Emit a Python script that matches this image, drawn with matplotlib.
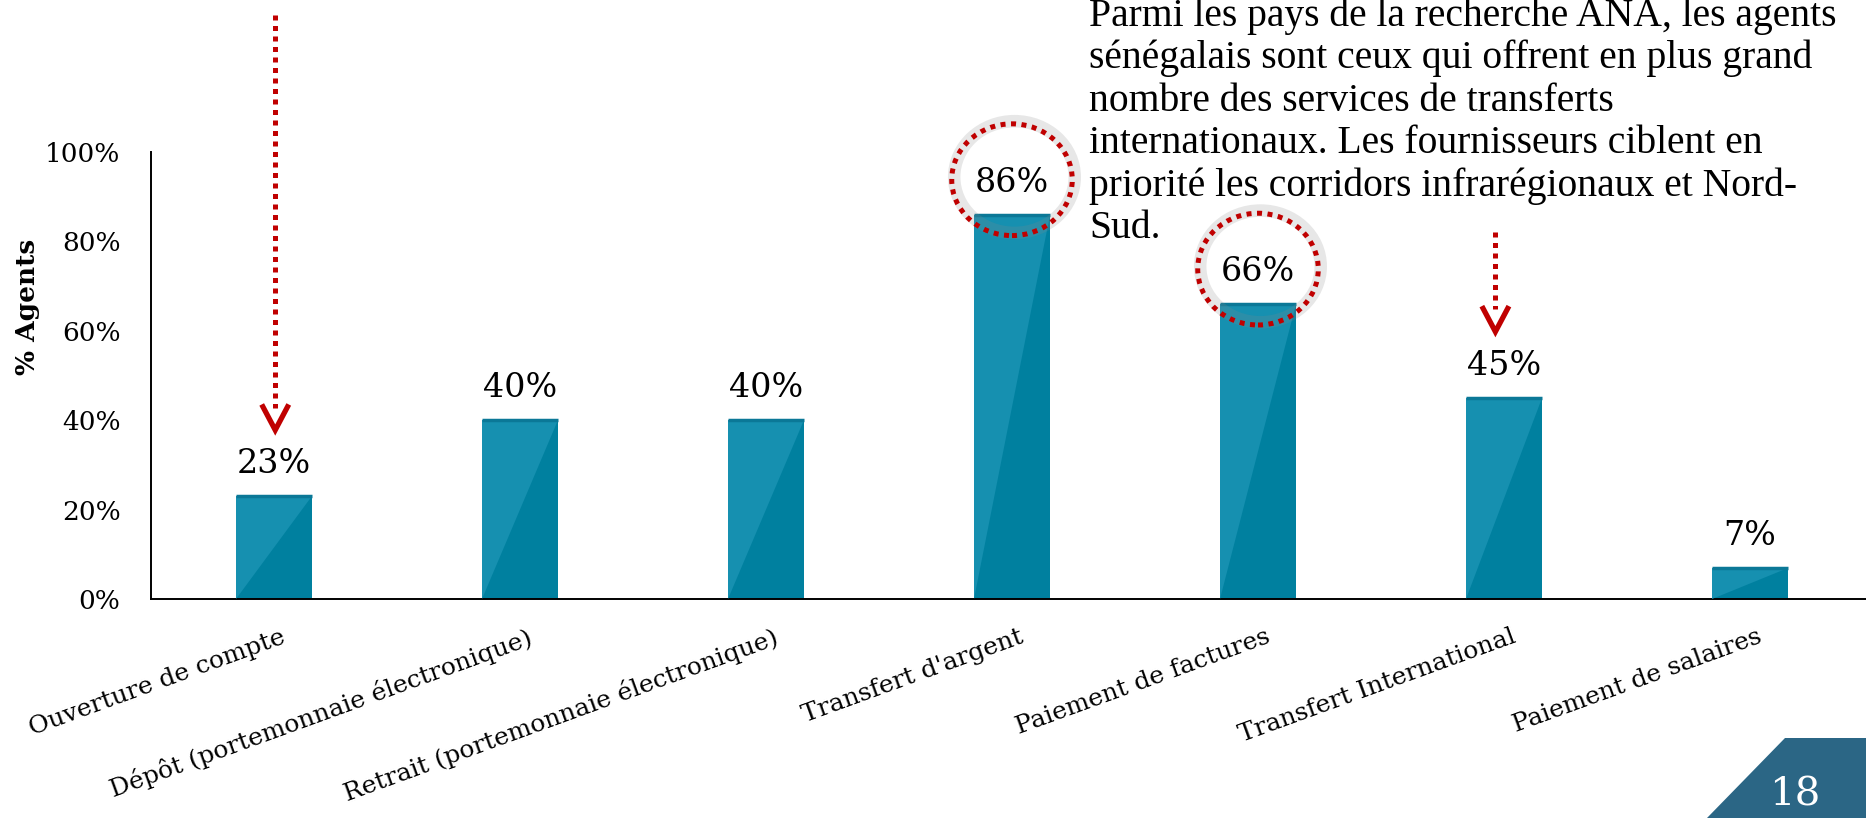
import matplotlib.pyplot as plt
from matplotlib.patches import Polygon, Ellipse
from matplotlib.transforms import ScaledTranslation
from matplotlib.ticker import PercentFormatter

# --- donnees ---
categories = ["Ouverture de compte", "Dépôt (portemonnaie électronique)",
              "Retrait (portemonnaie électronique)", "Transfert d'argent",
              "Paiement de factures", "Transfert International",
              "Paiement de salaires"]
valeurs = [0.23, 0.40, 0.40, 0.86, 0.66, 0.45, 0.07]
cercles = [3, 4]           # barres entourees
fleches = [0, 5]           # barres pointees par une fleche

note = ["Parmi les pays de la recherche ANA, les agents",
        "sénégalais sont ceux qui offrent en plus grand",
        "nombre des services de transferts",
        "internationaux. Les fournisseurs ciblent en",
        "priorité les corridors infrarégionaux et Nord-",
        "Sud."]

BLEU_FONCE = "#00809f"
BLEU_CLAIR = "#1690b0"
ROUGE = "#c00000"
SERIF = "DejaVu Serif"

W, H = 1866, 818
fig = plt.figure(figsize=(W / 100, H / 100), dpi=100)
ax = fig.add_axes([151 / W, 219 / H, (W - 151) / W, 447 / H])

x = list(range(len(categories)))
bars = ax.bar(x, valeurs, width=0.31, color=BLEU_FONCE, zorder=2)

# triangle clair (reflet) + bord superieur
for b in bars:
    x0, w, h = b.get_x(), b.get_width(), b.get_height()
    ax.add_patch(Polygon([(x0, 0), (x0, h), (x0 + w, h)], closed=True,
                         facecolor=BLEU_CLAIR, edgecolor="none", zorder=3))
    ax.plot([x0, x0 + w], [h, h], color="#0b7897", lw=2.5, zorder=4,
            solid_capstyle="butt")

for i, v in enumerate(valeurs):
    ax.annotate(f"{v:.0%}", (i, v), xytext=(0, 23), textcoords="offset points",
                ha="center", va="center", fontsize=24, family=SERIF)

ax.set_xlim(-0.5, -0.5 + (W - 151) / 246)
ax.set_ylim(0, 1)
ax.yaxis.set_major_formatter(PercentFormatter(1.0, decimals=0))
ax.set_yticks([0, 0.2, 0.4, 0.6, 0.8, 1.0])
ax.tick_params(axis="y", length=0, pad=22, labelsize=19)
for t in ax.get_yticklabels():
    t.set_family(SERIF)

ax.set_xticks(x)
ax.set_xticklabels(categories, rotation=20, ha="right", va="top",
                   rotation_mode="anchor", fontsize=18, family=SERIF)
ax.tick_params(axis="x", length=0, pad=19)
decal = ScaledTranslation(7 / 100, 0, fig.dpi_scale_trans)
for t in ax.get_xticklabels():
    t.set_transform(t.get_transform() + decal)

for s in ["top", "right"]:
    ax.spines[s].set_visible(False)
for s in ["left", "bottom"]:
    ax.spines[s].set_color("black")
    ax.spines[s].set_linewidth(1.4)

fig.text(27 / W, 1 - 307 / H, "% Agents", rotation=90, ha="center",
         va="center", fontsize=19, fontweight="bold", family=SERIF)

# cercles pointilles autour des valeurs
for i in cercles:
    cy = valeurs[i] + 0.078
    ax.add_patch(Ellipse((i + 0.01, cy + 0.006), 0.49, 0.25, fill=False,
                         edgecolor="#888888", lw=9, alpha=0.2, zorder=5,
                         clip_on=False))
    ax.add_patch(Ellipse((i, cy), 0.49, 0.25, fill=False, edgecolor=ROUGE,
                         lw=3.6, linestyle=(0, (1, 1.1)), zorder=6, clip_on=False))

# fleches pointillees
hauts = [1.306, 0.821]
for i, haut in zip(fleches, hauts):
    xi = i - 0.035 if i == 5 else i + 0.005
    pointe = valeurs[i] + 0.148
    ax.plot([xi, xi], [haut, pointe + 0.05], color=ROUGE, lw=3.6,
            linestyle=(0, (1, 1.1)), clip_on=False, zorder=6)
    ax.plot([xi - 0.05, xi, xi + 0.05], [pointe + 0.052, pointe, pointe + 0.052],
            color=ROUGE, lw=3.8, clip_on=False, zorder=6, solid_joinstyle="miter")

# texte d'annotation (premiere ligne coupee en haut comme l'original)
for k, ligne in enumerate(note):
    base = 238 - 42.4 * (len(note) - 1 - k)
    fig.text(1089 / W, 1 - base / H, ligne, ha="left", va="baseline",
             fontsize=28.5, family="Liberation Serif")

# onglet numero de page
fig.add_artist(Polygon([(1707 / W, 0), (1785 / W, 80 / H), (1, 80 / H), (1, 0)],
                       closed=True, transform=fig.transFigure,
                       facecolor="#2b6685", edgecolor="none"))
fig.text(1795 / W, 1 - 795 / H, "18", color="white", ha="center", va="center",
         fontsize=29, family=SERIF)

fig.savefig("out.png", dpi=100)
